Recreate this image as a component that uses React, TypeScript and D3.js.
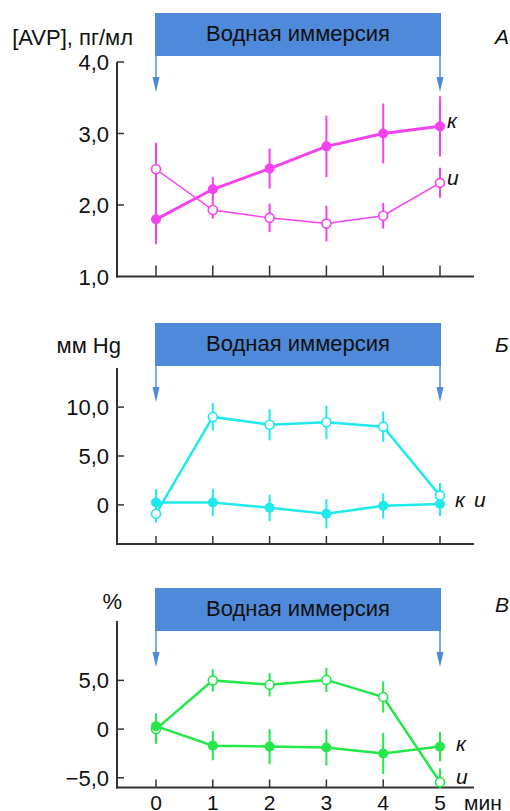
import React from "react";
import * as d3 from "d3";

const MINUTES = [0, 1, 2, 3, 4, 5];
const X_TICK_LABELS = ["0", "1", "2", "3", "4", "5"];

const AVP_K = [1.8, 2.22, 2.51, 2.82, 3.0, 3.1];
const AVP_K_ERR = [0.35, 0.17, 0.28, 0.43, 0.42, 0.42];
const AVP_I = [2.5, 1.93, 1.82, 1.74, 1.85, 2.31];
const AVP_I_ERR = [0.37, 0.12, 0.2, 0.25, 0.18, 0.21];
const AVP_TICKS = [1, 2, 3, 4];

const MM_K = [0.25, 0.25, -0.3, -0.9, -0.1, 0.1];
const MM_K_ERR = [1.35, 1.4, 1.35, 1.5, 1.3, 1.2];
const MM_I = [-0.9, 9.0, 8.2, 8.45, 8.0, 0.95];
const MM_I_ERR = [0.9, 1.4, 1.6, 1.7, 1.55, 1.3];
const MM_TICKS = [0, 5, 10];

const PCT_K = [0.3, -1.7, -1.8, -1.9, -2.5, -1.8];
const PCT_K_ERR = [1.3, 1.5, 1.8, 1.85, 2.1, 1.5];
const PCT_I = [0.0, 5.0, 4.55, 5.05, 3.3, -5.45];
const PCT_I_ERR = [1.5, 1.15, 1.2, 1.25, 1.6, 1.4];
const PCT_TICKS = [-5, 0, 5];

const BANNER_TEXT = "Водная иммерсия";
const FONT = "'Liberation Sans', Arial, Helvetica, sans-serif";
const BLUE = "#4f89d9";
const BLUE_LIGHT = "#7eaaea";

const x = d3.scaleLinear().domain([0, 5]).range([156, 440]);

const fmt = (v: number) =>
  v === 0 ? "0" : d3.format(".1f")(v).replace(".", ",").replace("-", "−");

type Labels = { text: string; x: number; y: number }[];

interface PanelProps {
  top: number;
  axisTop: number;
  axisBottom: number;
  domain: [number, number];
  ticks: number[];
  kVals: number[];
  kErr: number[];
  iVals: number[];
  iErr: number[];
  color: string;
  kWidth: number;
  iWidth: number;
  unit: string;
  unitX: number;
  unitY: number;
  letter: string;
  letterY: number;
  arrowTip: number;
  seriesLabels: Labels;
  xTickLen: number;
}

function Panel(p: PanelProps) {
  const y = d3.scaleLinear().domain(p.domain).range([p.axisBottom, p.axisTop]);
  const line = d3
    .line<number>()
    .x((_, i) => x(MINUTES[i]))
    .y((d) => y(d));
  const bannerL = x(0) - 1;
  const bannerR = x(5) + 1;
  const bannerH = 43;
  const bannerBottom = p.top + bannerH;
  const clampY = (v: number) => y(Math.max(p.domain[0], Math.min(p.domain[1], v)));
  const errBars = (vals: number[], errs: number[], key: string) =>
    vals.map((v, i) => (
      <line
        key={key + i}
        x1={x(MINUTES[i])}
        x2={x(MINUTES[i])}
        y1={clampY(v - errs[i])}
        y2={clampY(v + errs[i])}
        stroke={p.color}
        strokeWidth={2}
      />
    ));
  return (
    <g>
      <rect x={bannerL} y={p.top} width={bannerR - bannerL} height={bannerH} fill={BLUE} />
      <text
        x={(bannerL + bannerR) / 2}
        y={p.top + 28}
        textAnchor="middle"
        fontSize={22}
        fontFamily={FONT}
        fill="#111"
      >
        {BANNER_TEXT}
      </text>
      {[0, 5].map((m) => (
        <g key={"arr" + m}>
          <line
            x1={x(m)}
            x2={x(m)}
            y1={bannerBottom}
            y2={p.arrowTip - 10}
            stroke={BLUE_LIGHT}
            strokeWidth={2}
          />
          <path
            d={`M${x(m) - 3.5},${p.arrowTip - 15} L${x(m) + 3.5},${p.arrowTip - 15} L${x(m)},${p.arrowTip} Z`}
            fill={BLUE}
          />
        </g>
      ))}
      <line x1={117} x2={117} y1={p.axisTop} y2={p.axisBottom + 1} stroke="#333" strokeWidth={2} />
      <line x1={116} x2={474} y1={p.axisBottom} y2={p.axisBottom} stroke="#333" strokeWidth={2} />
      {MINUTES.map((m) => (
        <line
          key={"xt" + m}
          x1={x(m)}
          x2={x(m)}
          y1={p.axisBottom}
          y2={p.axisBottom - p.xTickLen}
          stroke="#333"
          strokeWidth={1.5}
        />
      ))}
      {p.ticks.map((t) => (
        <g key={"yt" + t}>
          {y(t) < p.axisBottom - 2 && (
            <line x1={117} x2={124} y1={y(t)} y2={y(t)} stroke="#333" strokeWidth={1.5} />
          )}
          <text
            x={109}
            y={y(t) + 8}
            textAnchor="end"
            fontSize={22}
            fontFamily={FONT}
            fill="#111"
          >
            {fmt(t)}
          </text>
        </g>
      ))}
      <text x={p.unitX} y={p.unitY} textAnchor="end" fontSize={22} fontFamily={FONT} fill="#111">
        {p.unit}
      </text>
      <text x={495} y={p.letterY} fontSize={21} fontStyle="italic" fontFamily={FONT} fill="#111">
        {p.letter}
      </text>
      {errBars(p.iVals, p.iErr, "ie")}
      {errBars(p.kVals, p.kErr, "ke")}
      <path d={line(p.iVals) || ""} fill="none" stroke={p.color} strokeWidth={p.iWidth} />
      <path d={line(p.kVals) || ""} fill="none" stroke={p.color} strokeWidth={p.kWidth} />
      {p.iVals.map((v, i) => (
        <circle
          key={"ic" + i}
          cx={x(MINUTES[i])}
          cy={y(v)}
          r={4.5}
          fill="#fff"
          stroke={p.color}
          strokeWidth={1.6}
        />
      ))}
      {p.kVals.map((v, i) => (
        <circle key={"kc" + i} cx={x(MINUTES[i])} cy={y(v)} r={5} fill={p.color} />
      ))}
      {p.seriesLabels.map((l, i) => (
        <text
          key={"sl" + i}
          x={l.x}
          y={l.y}
          fontSize={21}
          fontStyle="italic"
          fontFamily={FONT}
          fill="#111"
        >
          {l.text}
        </text>
      ))}
    </g>
  );
}

export default function App() {
  return (
    <svg
      width={510}
      height={811}
      style={{ position: "absolute", left: 0, top: 0, background: "#fff" }}
    >
      <Panel
        top={13}
        axisTop={62}
        axisBottom={276.5}
        domain={[1, 4]}
        ticks={AVP_TICKS}
        kVals={AVP_K}
        kErr={AVP_K_ERR}
        iVals={AVP_I}
        iErr={AVP_I_ERR}
        color="#f542ef"
        kWidth={3}
        iWidth={1.5}
        unit="[AVP], пг/мл"
        unitX={133}
        unitY={45}
        letter="А"
        letterY={44}
        arrowTip={92}
        seriesLabels={[
          { text: "к", x: 447, y: 128 },
          { text: "и", x: 447, y: 185 },
        ]}
        xTickLen={11}
      />
      <Panel
        top={323}
        axisTop={368}
        axisBottom={544}
        domain={[-4, 14]}
        ticks={MM_TICKS}
        kVals={MM_K}
        kErr={MM_K_ERR}
        iVals={MM_I}
        iErr={MM_I_ERR}
        color="#1ee9ec"
        kWidth={2.5}
        iWidth={2.5}
        unit="мм Hg"
        unitX={121}
        unitY={353}
        letter="Б"
        letterY={352}
        arrowTip={402}
        seriesLabels={[
          { text: "к", x: 455, y: 507 },
          { text: "и", x: 474, y: 507 },
        ]}
        xTickLen={8}
      />
      <Panel
        top={588}
        axisTop={621}
        axisBottom={787.5}
        domain={[-6, 11.1]}
        ticks={PCT_TICKS}
        kVals={PCT_K}
        kErr={PCT_K_ERR}
        iVals={PCT_I}
        iErr={PCT_I_ERR}
        color="#22e84a"
        kWidth={2.5}
        iWidth={2.5}
        unit="%"
        unitX={122}
        unitY={609}
        letter="В"
        letterY={612}
        arrowTip={667}
        seriesLabels={[
          { text: "к", x: 456, y: 751 },
          { text: "и", x: 456, y: 784 },
        ]}
        xTickLen={8}
      />
      {MINUTES.map((m, i) => (
        <text
          key={"xl" + m}
          x={x(m)}
          y={810}
          textAnchor="middle"
          fontSize={21}
          fontFamily={FONT}
          fill="#111"
        >
          {X_TICK_LABELS[i]}
        </text>
      ))}
      <text x={464} y={810} fontSize={21} fontFamily={FONT} fill="#111">
        мин
      </text>
    </svg>
  );
}
